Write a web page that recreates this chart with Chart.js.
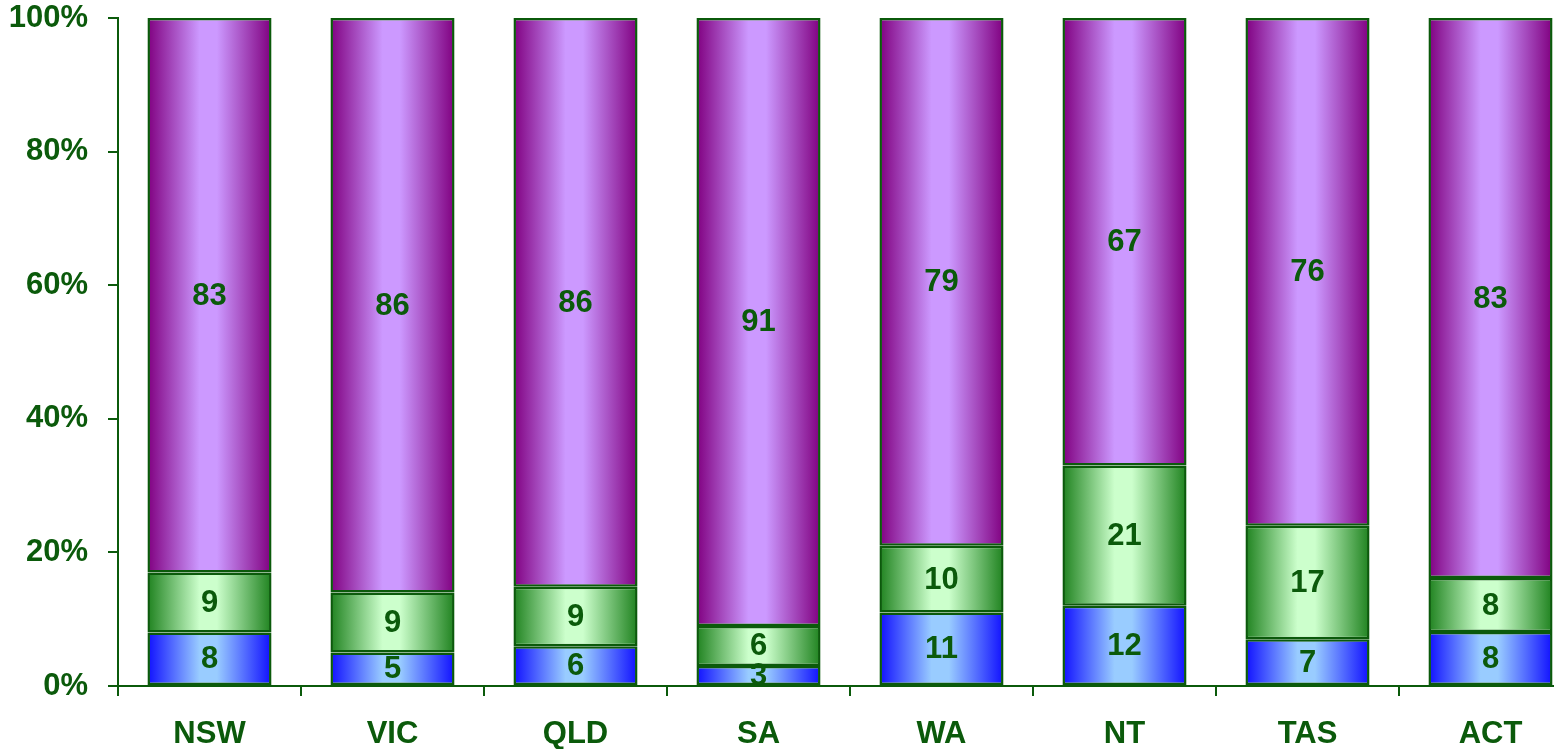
<!DOCTYPE html>
<html>
<head>
<meta charset="utf-8">
<script src="https://cdn.jsdelivr.net/npm/chart.js@4"></script>
<style>
  html, body { margin: 0; padding: 0; overflow: hidden; background: #fff; }
  #wrap { width: 1582px; height: 749px; position: relative; }
</style>
</head>
<body>
<div id="wrap"><canvas id="shareChart"></canvas></div>
<script>
// Share of each state's total, three bands stacked to 100%
const states = ['NSW', 'VIC', 'QLD', 'SA', 'WA', 'NT', 'TAS', 'ACT'];
const lowBand = [8, 5, 6, 3, 11, 12, 7, 8];
const midBand = [9, 9, 9, 6, 10, 21, 17, 8];
const highBand = [83, 86, 86, 91, 79, 67, 76, 83];

const INK = '#0b5a0b';
const FONT = "'Liberation Sans', Arial, sans-serif";
const BAR_PCT = 0.678;

const totals = states.map((_, i) => lowBand[i] + midBand[i] + highBand[i]);
const toPct = arr => arr.map((v, i) => v / totals[i] * 100);

// horizontal "cylinder" shading: dark at both edges, light in the middle
function shade(dark, light) {
  return function (ctx) {
    const chart = ctx.chart;
    const x = chart.scales.x;
    if (!x || !chart.chartArea) return dark;
    const cx = x.getPixelForValue(ctx.dataIndex);
    const half = (x.width / states.length) * BAR_PCT / 2;
    const g = chart.ctx.createLinearGradient(cx - half, 0, cx + half, 0);
    g.addColorStop(0, dark);
    g.addColorStop(0.42, light);
    g.addColorStop(0.56, light);
    g.addColorStop(1, dark);
    return g;
  };
}

function band(raw, dark, light) {
  return {
    data: toPct(raw),
    raw,
    backgroundColor: shade(dark, light),
    borderColor: INK,
    borderWidth: 2.5,
    borderSkipped: false,
    barPercentage: BAR_PCT,
    categoryPercentage: 1
  };
}

// writes the raw value in the middle of each segment
const segmentLabels = {
  id: 'segmentLabels',
  afterDatasetsDraw(chart) {
    const c = chart.ctx;
    c.save();
    c.font = `bold 31px ${FONT}`;
    c.fillStyle = INK;
    c.textAlign = 'center';
    c.textBaseline = 'middle';
    chart.data.datasets.forEach((ds, di) => {
      chart.getDatasetMeta(di).data.forEach((el, i) => {
        c.fillText(String(ds.raw[i]), el.x, (el.y + el.base) / 2 + 1);
      });
    });
    c.restore();
  }
};

new Chart(document.getElementById('shareChart'), {
  type: 'bar',
  data: {
    labels: states,
    datasets: [
      band(lowBand, '#1010ff', '#99ccff'),
      band(midBand, '#1f821f', '#ccffcc'),
      band(highBand, '#800080', '#cc99ff')
    ]
  },
  options: {
    responsive: true,
    maintainAspectRatio: false,
    animation: false,
    layout: { padding: 0 },
    plugins: { legend: { display: false }, tooltip: { enabled: false } },
    scales: {
      x: {
        stacked: true,
        afterFit(s) { s.height = 63; },
        border: { color: INK, width: 2 },
        grid: { offset: true, drawOnChartArea: false, drawTicks: true, tickLength: 10, color: INK, lineWidth: 2 },
        ticks: { color: INK, padding: 20, font: { family: FONT, size: 31, weight: 'bold' } }
      },
      y: {
        stacked: true,
        min: 0,
        max: 100,
        afterFit(s) {
          s.width = 118;
          s.paddingTop = 18;
          s.paddingBottom = 0;
        },
        border: { color: INK, width: 2 },
        grid: { drawOnChartArea: false, drawTicks: true, tickLength: 10, color: INK, lineWidth: 2 },
        ticks: {
          stepSize: 20,
          color: INK,
          padding: 20,
          font: { family: FONT, size: 31, weight: 'bold' },
          callback: v => v + '%'
        }
      }
    }
  },
  plugins: [segmentLabels]
});
</script>
</body>
</html>
